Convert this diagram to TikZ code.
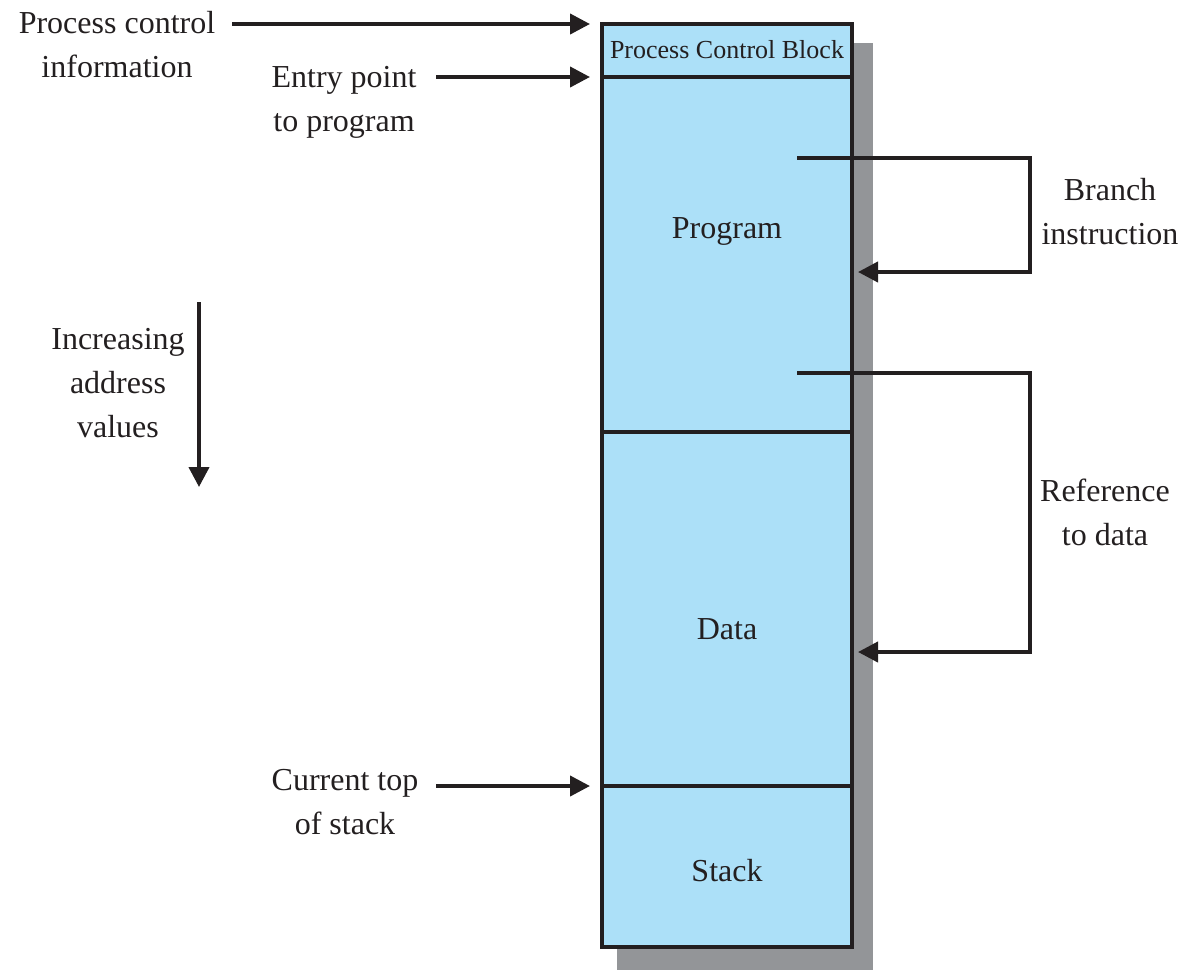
\documentclass[tikz,border=0pt]{standalone}
\usepackage{fontspec}
\setmainfont{Liberation Serif}
\usetikzlibrary{arrows.meta}
\definecolor{memblue}{HTML}{ACE0F8}
\definecolor{shadowgray}{HTML}{939598}
\definecolor{ink}{HTML}{231F20}
\begin{document}
\begin{tikzpicture}[x=0.5pt,y=-0.5pt,
  seg/.style={draw=ink, line width=2pt, fill=memblue, minimum width=125pt, inner sep=0pt, outer sep=0pt, anchor=north},
  lbl/.style={align=center, font=\fontsize{16}{22}\selectfont, text=ink, inner sep=0pt},
  arr/.style={draw=ink, line width=2pt, -{Triangle[length=10pt,width=10pt]}}]
\useasboundingbox (0,0) rectangle (1194,970);

% drop shadow behind the process image
\fill[shadowgray] (617,43) rectangle (873,970);

% process image segments
\node[seg, minimum height=26.5pt] (pcb) at (727,24) {};
\node[seg, minimum height=177.5pt] (prog) at (pcb.south) {};
\node[seg, minimum height=177pt] (data) at (prog.south) {};
\node[seg, minimum height=80.5pt] (stack) at (data.south) {};

\node[text=ink, font=\fontsize{13}{15}\selectfont, inner sep=0pt] (pcbt) at (727,50) {Process Control Block};
\node[lbl] (progt) at (727,231) {Program};
\node[lbl] (datat) at (727,629) {Data};
\node[lbl] (stackt) at (727,871) {Stack};

% side labels
\node[lbl] (pci) at (117,45) {Process control\\information};
\node[lbl] (entry) at (344,102) {Entry point\\to program};
\node[lbl] (incr) at (118,383) {Increasing\\address\\values};
\node[lbl] (cur) at (345,802) {Current top\\of stack};
\node[lbl] (branch) at (1110,212) {Branch\\instruction};
\node[lbl] (ref) at (1105,512) {Reference\\to data};

% arrows into the image
\coordinate (pciS) at (232,0);
\coordinate (entryS) at (436,0);
\coordinate (curS) at (436,0);
\draw[arr] (pciS |- pcb.north west) -- ([xshift=-6pt]pcb.north west);
\draw[arr] (entryS |- prog.north west) -- ([xshift=-6pt]prog.north west);
\draw[arr] (curS |- stack.north west) -- ([xshift=-6pt]stack.north west);

% address direction
\coordinate (incrTop) at (199,302);
\coordinate (incrBot) at (199,487);
\draw[arr] (incrTop) -- (incrBot);

% branch instruction loop
\coordinate (brS) at (797,158);
\coordinate (brC) at (1030,272);
\coordinate (brT) at (858,272);
\draw[arr] (brS) -| (brC) -- (brT);

% data reference loop
\coordinate (refS) at (797,373);
\coordinate (refC) at (1030,652);
\coordinate (refT) at (858,652);
\draw[arr] (refS) -| (refC) -- (refT);
\end{tikzpicture}
\end{document}
